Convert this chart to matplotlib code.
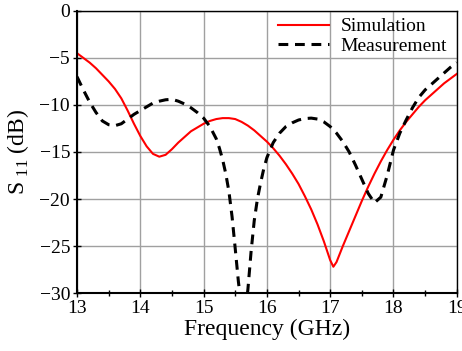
import matplotlib
matplotlib.use("Agg")
import matplotlib.pyplot as plt
import numpy as np

plt.rcParams['font.family'] = ['Liberation Serif', 'DejaVu Serif']
plt.rcParams['mathtext.fontset'] = 'custom'
plt.rcParams['mathtext.rm'] = 'Liberation Serif'

# simulated S11 (dB)
f_sim = [13.0, 13.1, 13.2, 13.3, 13.4, 13.5, 13.6, 13.7, 13.8, 13.9,
         14.0, 14.1, 14.2, 14.3, 14.4, 14.5, 14.6, 14.7, 14.8, 14.9,
         15.0, 15.1, 15.2, 15.3, 15.4, 15.5, 15.6, 15.7, 15.8, 15.9,
         16.0, 16.1, 16.2, 16.3, 16.4, 16.5, 16.6, 16.7, 16.8, 16.9,
         17.0, 17.05, 17.1, 17.2, 17.3, 17.4, 17.5, 17.6, 17.7, 17.8,
         17.9, 18.0, 18.1, 18.2, 18.3, 18.4, 18.5, 18.6, 18.7, 18.8,
         18.9, 19.0]
s_sim = [-4.5, -5.0, -5.5, -6.1, -6.8, -7.5, -8.3, -9.3, -10.6, -12.0,
         -13.3, -14.4, -15.2, -15.5, -15.3, -14.7, -14.0, -13.4, -12.8, -12.4,
         -12.0, -11.7, -11.5, -11.4, -11.4, -11.5, -11.8, -12.2, -12.7, -13.3,
         -13.9, -14.6, -15.4, -16.3, -17.3, -18.4, -19.7, -21.1, -22.7, -24.5,
         -26.5, -27.2, -26.7, -25.0, -23.4, -21.8, -20.2, -18.7, -17.3, -16.0,
         -14.8, -13.7, -12.7, -11.8, -11.0, -10.2, -9.5, -8.9, -8.3, -7.7,
         -7.2, -6.7]

# measured S11 (dB)
f_meas = [13.0, 13.1, 13.2, 13.3, 13.4, 13.5, 13.6, 13.7, 13.8, 13.9,
          14.0, 14.1, 14.2, 14.3, 14.4, 14.5, 14.6, 14.7, 14.8, 14.9,
          15.0, 15.1, 15.2, 15.25, 15.3, 15.35, 15.4, 15.45, 15.5, 15.55,
          15.6, 15.65, 15.7, 15.75, 15.8, 15.85, 15.9, 15.95, 16.0, 16.1,
          16.2, 16.3, 16.4, 16.5, 16.6, 16.7, 16.8, 16.9, 17.0, 17.1,
          17.2, 17.3, 17.4, 17.5, 17.6, 17.7, 17.8, 17.9, 18.0, 18.1,
          18.2, 18.3, 18.4, 18.5, 18.6, 18.7, 18.8, 18.9, 19.0]
s_meas = [-7.0, -8.4, -9.7, -10.8, -11.7, -12.1, -12.2, -12.0, -11.5, -11.0,
          -10.6, -10.2, -9.8, -9.6, -9.45, -9.4, -9.6, -9.9, -10.3, -10.8,
          -11.4, -12.3, -13.6, -14.6, -15.8, -17.3, -19.2, -21.9, -25.3, -28.8,
          -31.6, -32.6, -29.6, -25.6, -22.3, -20.0, -18.3, -16.8, -15.6, -14.0,
          -13.0, -12.3, -11.9, -11.6, -11.45, -11.4, -11.5, -11.8, -12.3, -13.0,
          -13.9, -15.0, -16.4, -17.9, -19.4, -20.4, -19.8, -17.5, -14.8, -13.0,
          -11.6, -10.3, -9.2, -8.4, -7.8, -7.2, -6.6, -6.0, -5.5]

x_ticks = [13, 14, 15, 16, 17, 18, 19]
y_ticks = [0, -5, -10, -15, -20, -25, -30]

fig = plt.figure(figsize=(4.62, 3.51), dpi=100)
ax = fig.add_axes([0.1667, 0.165, 0.822, 0.804])

ax.plot(f_sim, s_sim, color='red', lw=1.5, label='Simulation')
ax.plot(f_meas, s_meas, color='black', lw=2.2, ls=(0, (3.2, 2.2)), label='Measurement')

ax.set_xlim(13, 19)
ax.set_ylim(-30, 0)
ax.set_xticks(x_ticks)
ax.set_yticks(y_ticks)
ax.set_xticks(np.arange(13.5, 19, 1), minor=True)
ax.tick_params(axis='both', which='major', direction='inout', length=6, width=1,
               labelsize=14, pad=2)
ax.tick_params(axis='x', which='minor', direction='inout', length=4, width=1)
ax.grid(True, color='#a0a0a0', lw=1)
ax.set_axisbelow(True)
for s in ['left', 'bottom']:
    ax.spines[s].set_linewidth(1.5)
for s in ['top', 'right']:
    ax.spines[s].set_linewidth(1.0)

ax.set_xlabel('Frequency (GHz)', fontsize=17, labelpad=1)
ax.set_ylabel(r'S$_{\mathrm{\ 11}}$ (dB)', fontsize=17, labelpad=6)

leg = ax.legend(loc='upper right', frameon=False, fontsize=14, handlelength=2.6,
                handletextpad=0.6, borderaxespad=0.1, labelspacing=0.1,
                bbox_to_anchor=(1.0, 1.01))

fig.savefig('out.png', dpi=100)
